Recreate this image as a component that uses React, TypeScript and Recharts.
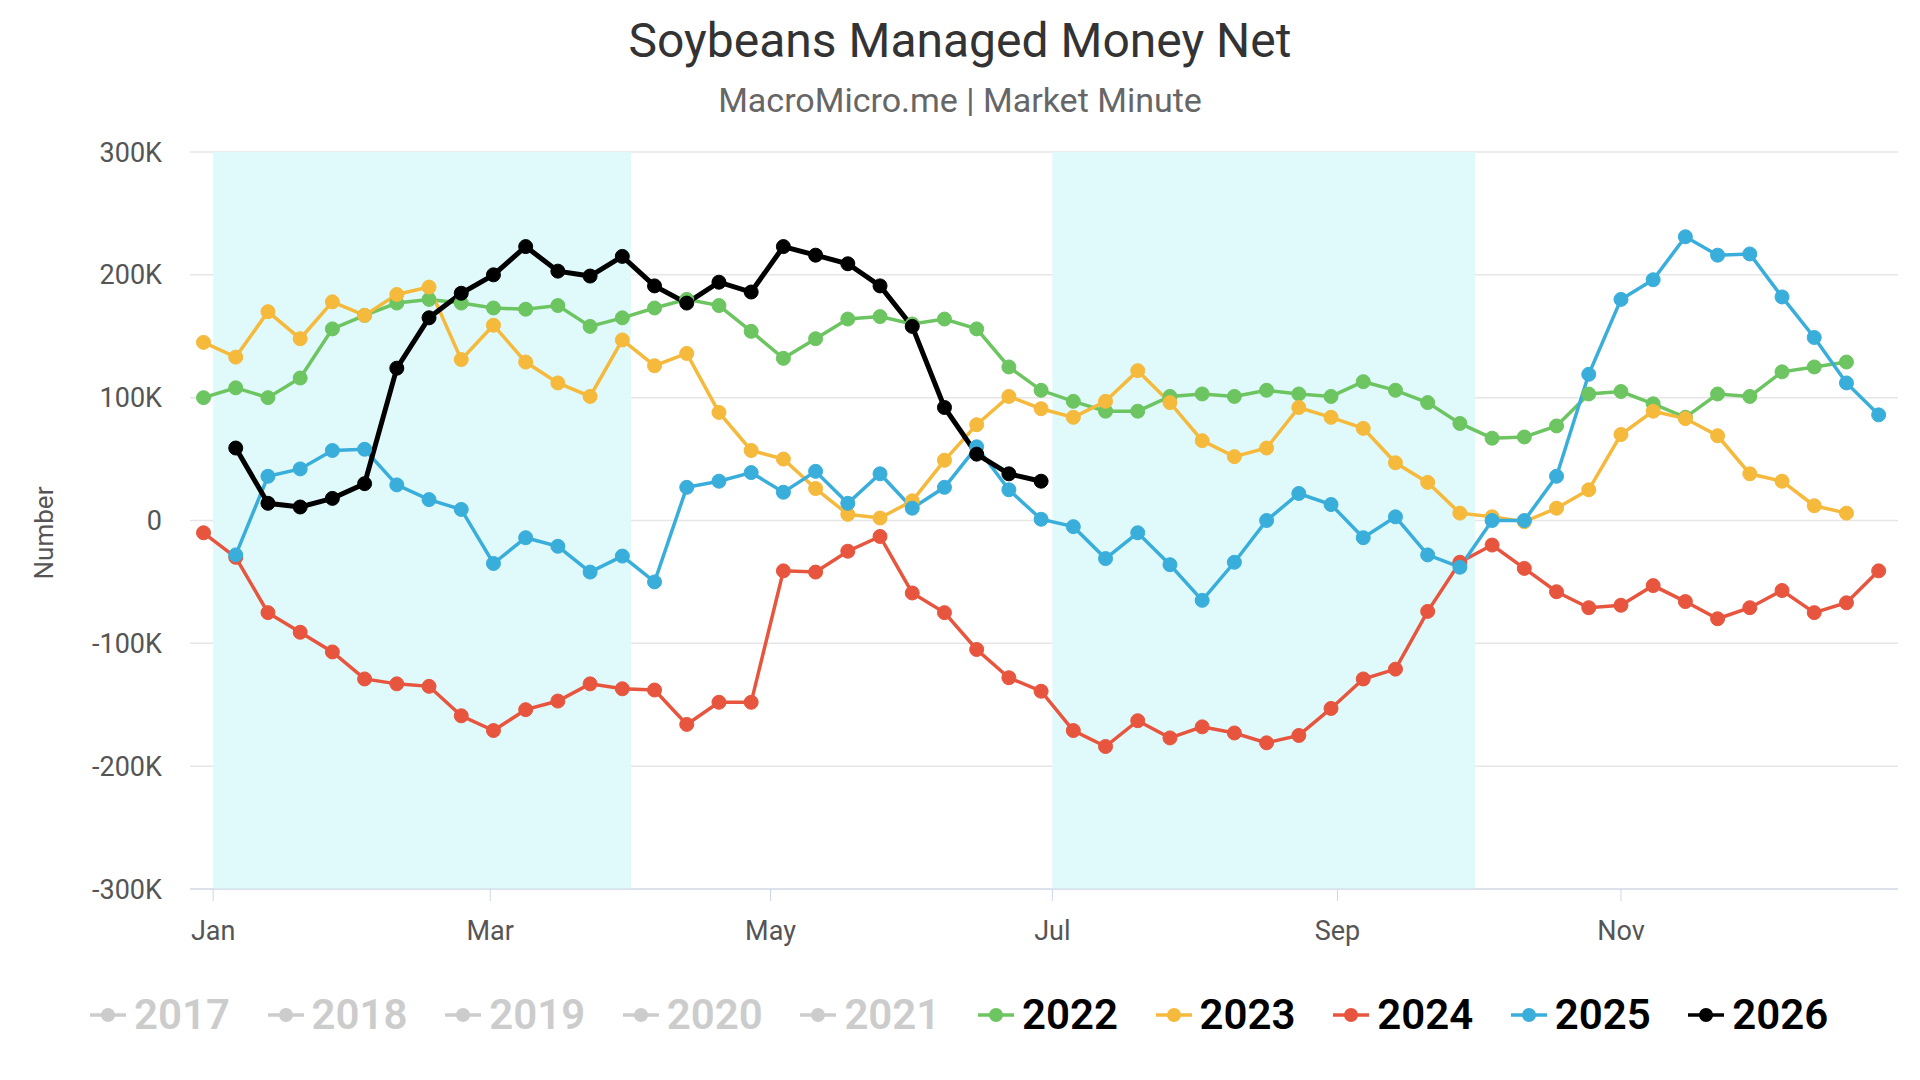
import React from "react";
import { LineChart, Line, XAxis, YAxis, CartesianGrid, ReferenceArea } from "recharts";

const y2022 = [100,108,100,116,156,167,177,180,177,173,172,175,158,165,173,180,175,154,132,148,164,166,160,164,156,125,106,97,89,89,101,103,101,106,103,101,113,106,96,79,67,68,77,103,105,95,84,103,101,121,125,129];
const y2023 = [145,133,170,148,178,167,184,190,131,159,129,112,101,147,126,136,88,57,50,26,5,2,16,49,78,101,91,84,97,122,96,65,52,59,92,84,75,47,31,6,3,-1,10,25,70,89,83,69,38,32,12,6];
const y2024 = [-10,-30,-75,-91,-107,-129,-133,-135,-159,-171,-154,-147,-133,-137,-138,-166,-148,-148,-41,-42,-25,-13,-59,-75,-105,-128,-139,-171,-184,-163,-177,-168,-173,-181,-175,-153,-129,-121,-74,-34,-20,-39,-58,-71,-69,-53,-66,-80,-71,-57,-75,-67,-41];
const y2025 = [null,-28,36,42,57,58,29,17,9,-35,-14,-21,-42,-29,-50,27,32,39,23,40,14,38,10,27,60,25,1,-5,-31,-10,-36,-65,-34,0,22,13,-14,3,-28,-38,0,0,36,119,180,196,231,216,217,182,149,112,86];
const y2026 = [null,59,14,11,18,30,124,165,185,200,223,203,199,215,191,177,194,186,223,216,209,191,158,92,54,38,32];

const monthTicks = [0.3, 8.9, 17.6, 26.35, 35.2, 44.0];
const monthLabels = ["Jan", "Mar", "May", "Jul", "Sep", "Nov"];
const yTicks = [-300, -200, -100, 0, 100, 200, 300];

const series = [
  { key: "y2022", name: "2022", color: "#6cc561", values: y2022 },
  { key: "y2023", name: "2023", color: "#f5b93c", values: y2023 },
  { key: "y2024", name: "2024", color: "#e8553e", values: y2024 },
  { key: "y2025", name: "2025", color: "#3aaedb", values: y2025 },
  { key: "y2026", name: "2026", color: "#000000", values: y2026 },
];
const inactive = ["2017", "2018", "2019", "2020", "2021"];

const data = Array.from({ length: 53 }, (_, i) => {
  const row: any = { w: i };
  series.forEach((s) => {
    const v = s.values[i];
    row[s.key] = v === undefined || v === null ? null : v * 1000;
  });
  return row;
});

const fmt = (v: number) => (v === 0 ? "0" : `${v / 1000}K`);
const font = "Roboto, 'Noto Sans', sans-serif";

export default function App() {
  return (
    <div style={{ position: "absolute", left: 0, top: 0, width: 1920, height: 1080, background: "#fff", fontFamily: font }}>
      <div style={{ position: "absolute", top: 12, width: 1920, textAlign: "center", fontSize: 48, color: "#333" }}>Soybeans Managed Money Net</div>
      <div style={{ position: "absolute", top: 80, width: 1920, textAlign: "center", fontSize: 34, color: "#666" }}>MacroMicro.me | Market Minute</div>
      <div style={{ position: "absolute", left: 44, top: 518, transform: "rotate(-90deg)", transformOrigin: "center", fontSize: 26, color: "#555", width: 0, whiteSpace: "nowrap", display: "flex", justifyContent: "center" }}>Number</div>
      <LineChart width={1920} height={1080} data={data} margin={{ top: 152, right: 22, bottom: 161, left: 70 }}>
        <ReferenceArea x1={0.3} x2={13.27} y1={-300000} y2={300000} fill="#e0f9fa" fillOpacity={1} stroke="none" ifOverflow="visible" />
        <ReferenceArea x1={26.35} x2={39.47} y1={-300000} y2={300000} fill="#e0f9fa" fillOpacity={1} stroke="none" ifOverflow="visible" />
        <CartesianGrid vertical={false} stroke="#e6e6e6" strokeWidth={1.5} />
        <XAxis
          dataKey="w"
          type="number"
          domain={[-0.42, 52.6]}
          ticks={monthTicks}
          tickFormatter={(v: number) => monthLabels[monthTicks.indexOf(v)] ?? ""}
          stroke="#ccd6eb"
          tick={{ fill: "#555", fontSize: 27, fontFamily: font }}
          tickSize={12}
          tickMargin={20}
        />
        <YAxis
          width={120}
          domain={[-300000, 300000]}
          ticks={yTicks.map((t) => t * 1000)}
          tickFormatter={fmt}
          axisLine={false}
          tickLine={false}
          tick={{ fill: "#555", fontSize: 27, fontFamily: font }}
          tickMargin={22}
        />
        {series.map((s) => (
          <Line
            key={s.key}
            dataKey={s.key}
            name={s.name}
            stroke={s.color}
            strokeWidth={s.key === "y2026" ? 5 : 3.5}
            dot={{ r: 7, fill: s.color, stroke: s.color, strokeWidth: 1 }}
            isAnimationActive={false}
            connectNulls={false}
          />
        ))}
      </LineChart>
      <div style={{ position: "absolute", top: 990, left: 90, display: "flex", fontSize: 42, fontWeight: 600 }}>
        {inactive.map((n) => (
          <div key={n} style={{ width: 177.6, display: "flex", alignItems: "center", color: "#ccc" }}>
            <svg width={36} height={20}><line x1={0} y1={10} x2={36} y2={10} stroke="#ccc" strokeWidth={3.5} /><circle cx={18} cy={10} r={7} fill="#ccc" /></svg>
            <span style={{ marginLeft: 8 }}>{n}</span>
          </div>
        ))}
        {series.map((s) => (
          <div key={s.key} style={{ width: 177.6, display: "flex", alignItems: "center", color: "#000" }}>
            <svg width={36} height={20}><line x1={0} y1={10} x2={36} y2={10} stroke={s.color} strokeWidth={3.5} /><circle cx={18} cy={10} r={7} fill={s.color} /></svg>
            <span style={{ marginLeft: 8 }}>{s.name}</span>
          </div>
        ))}
      </div>
    </div>
  );
}
